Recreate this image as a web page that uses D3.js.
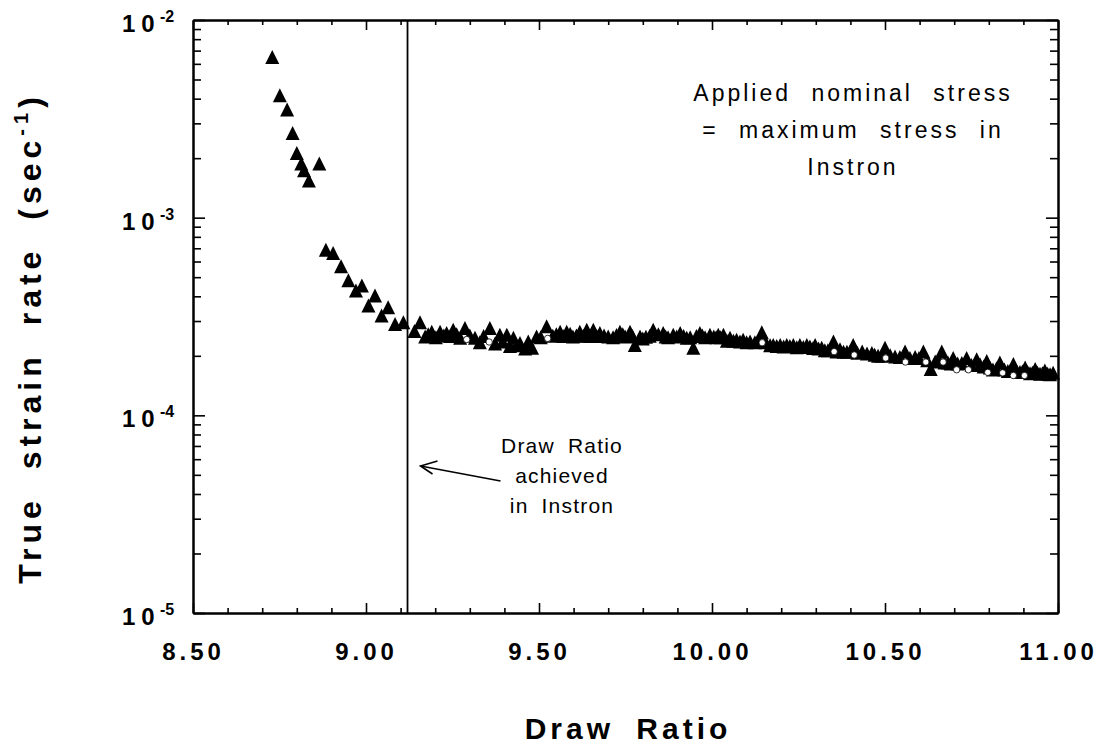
<!DOCTYPE html>
<html>
<head>
<meta charset="utf-8">
<script src="https://cdn.jsdelivr.net/npm/d3@7"></script>
<style>
  html, body { margin: 0; padding: 0; background: #fff; }
  svg { display: block; }
</style>
</head>
<body>
<svg id="chart" width="1108" height="749"></svg>
<script>
// Filled triangles: true strain rate (1/s) against draw ratio
const drawRatio = [
  8.729, 8.751, 8.772, 8.788, 8.800, 8.813, 8.821, 8.835, 8.865,
  8.884, 8.905, 8.928, 8.949, 8.971, 8.988, 9.007, 9.026, 9.045, 9.064, 9.084, 9.108,
  9.156, 9.171, 9.190, 9.202, 9.214, 9.233, 9.243, 9.252, 9.272, 9.286,
  9.315, 9.329, 9.358, 9.373, 9.387, 9.407, 9.416, 9.426, 9.445, 9.460,
  9.469, 9.480, 9.493, 9.522, 9.540, 9.561, 9.580, 9.598, 9.618, 9.638,
  9.647, 9.657, 9.676, 9.700, 9.714, 9.734, 9.749, 9.763, 9.777, 9.792,
  9.809, 9.830, 9.859, 9.873, 9.888, 9.908, 9.927, 9.946, 9.965, 9.980,
  9.994, 10.005, 10.018, 10.033, 10.043, 10.052, 10.071, 10.081, 10.090, 10.110,
  10.124, 10.144, 10.168, 10.177, 10.197, 10.216, 10.225, 10.235, 10.254, 10.274,
  10.283, 10.298, 10.317, 10.335, 10.351, 10.370, 10.390, 10.408, 10.434, 10.462,
  10.480, 10.500, 10.529, 10.558, 10.587, 10.611, 10.632, 10.664, 10.682, 10.697,
  10.722, 10.736, 10.765, 10.775, 10.794, 10.812, 10.832, 10.855, 10.871, 10.890,
  10.905, 10.919, 10.934, 10.948, 10.962, 10.977, 10.986,
  // lower row of the dense band
  9.140, 9.180, 9.225, 9.262, 9.300, 9.340, 9.395, 9.435, 9.505, 9.550,
  9.570, 9.590, 9.608, 9.628, 9.667, 9.688, 9.724, 9.742, 9.770, 9.800,
  9.820, 9.845, 9.866, 9.898, 9.918, 9.937, 9.955, 9.972, 10.012, 10.025,
  10.062, 10.100, 10.134, 10.155, 10.187, 10.207, 10.245, 10.264, 10.292, 10.308,
  10.326, 10.343, 10.360, 10.380, 10.400, 10.420, 10.448, 10.470, 10.490, 10.515,
  10.543, 10.572, 10.598, 10.622, 10.645, 10.655, 10.672, 10.690, 10.710, 10.750,
  10.785, 10.803, 10.822, 10.845, 10.862, 10.880, 10.897, 10.912, 10.926, 10.941,
  10.955, 10.970
];
const strainRate = [
  6.33e-3, 4.05e-3, 3.43e-3, 2.61e-3, 2.07e-3, 1.83e-3, 1.69e-3, 1.50e-3, 1.83e-3,
  6.70e-4, 6.44e-4, 5.53e-4, 4.69e-4, 4.17e-4, 4.42e-4, 3.50e-4, 3.93e-4, 3.11e-4, 3.43e-4, 2.82e-4, 2.88e-4,
  2.88e-4, 2.44e-4, 2.58e-4, 2.42e-4, 2.58e-4, 2.54e-4, 2.45e-4, 2.64e-4, 2.40e-4, 2.69e-4,
  2.40e-4, 2.28e-4, 2.69e-4, 2.25e-4, 2.49e-4, 2.49e-4, 2.18e-4, 2.40e-4, 2.26e-4, 2.12e-4,
  2.30e-4, 2.14e-4, 2.44e-4, 2.75e-4, 2.46e-4, 2.58e-4, 2.58e-4, 2.44e-4, 2.58e-4, 2.64e-4,
  2.45e-4, 2.64e-4, 2.54e-4, 2.44e-4, 2.42e-4, 2.58e-4, 2.44e-4, 2.58e-4, 2.21e-4, 2.44e-4,
  2.43e-4, 2.64e-4, 2.54e-4, 2.42e-4, 2.49e-4, 2.54e-4, 2.40e-4, 2.14e-4, 2.54e-4, 2.42e-4,
  2.49e-4, 2.44e-4, 2.49e-4, 2.49e-4, 2.32e-4, 2.40e-4, 2.35e-4, 2.30e-4, 2.35e-4, 2.30e-4,
  2.28e-4, 2.56e-4, 2.20e-4, 2.21e-4, 2.21e-4, 2.21e-4, 2.18e-4, 2.21e-4, 2.21e-4, 2.21e-4,
  2.17e-4, 2.21e-4, 2.14e-4, 2.08e-4, 2.30e-4, 2.10e-4, 2.04e-4, 2.21e-4, 2.05e-4, 2.01e-4,
  1.95e-4, 2.14e-4, 1.93e-4, 2.05e-4, 1.92e-4, 2.05e-4, 1.67e-4, 2.05e-4, 1.80e-4, 1.90e-4,
  1.79e-4, 1.90e-4, 1.87e-4, 1.76e-4, 1.83e-4, 1.66e-4, 1.80e-4, 1.63e-4, 1.77e-4, 1.61e-4,
  1.70e-4, 1.59e-4, 1.67e-4, 1.58e-4, 1.64e-4, 1.57e-4, 1.60e-4,
  // lower row of the dense band
  2.60e-4, 2.50e-4, 2.47e-4, 2.50e-4, 2.47e-4, 2.45e-4, 2.30e-4, 2.20e-4, 2.42e-4, 2.50e-4,
  2.45e-4, 2.52e-4, 2.47e-4, 2.46e-4, 2.45e-4, 2.47e-4, 2.48e-4, 2.50e-4, 2.45e-4, 2.38e-4,
  2.46e-4, 2.50e-4, 2.44e-4, 2.44e-4, 2.45e-4, 2.42e-4, 2.45e-4, 2.47e-4, 2.42e-4, 2.42e-4,
  2.32e-4, 2.28e-4, 2.30e-4, 2.28e-4, 2.18e-4, 2.17e-4, 2.15e-4, 2.16e-4, 2.13e-4, 2.12e-4,
  2.08e-4, 2.10e-4, 2.05e-4, 2.04e-4, 2.06e-4, 2.02e-4, 2.00e-4, 1.97e-4, 1.95e-4, 1.96e-4,
  1.92e-4, 1.90e-4, 1.90e-4, 1.85e-4, 1.82e-4, 1.86e-4, 1.80e-4, 1.78e-4, 1.78e-4, 1.75e-4,
  1.72e-4, 1.70e-4, 1.68e-4, 1.66e-4, 1.64e-4, 1.63e-4, 1.62e-4, 1.61e-4, 1.60e-4, 1.60e-4,
  1.59e-4, 1.58e-4
];

// Open symbols lying inside the triangle band
const openDrawRatio = [
  9.291, 9.356, 9.525, 10.145, 10.353, 10.411, 10.502, 10.559,
  10.618, 10.668, 10.707, 10.741, 10.797, 10.840, 10.871, 10.903
];
const openStrainRate = [
  2.42e-4, 2.35e-4, 2.45e-4, 2.33e-4, 2.10e-4, 2.02e-4, 1.95e-4, 1.86e-4,
  1.86e-4, 1.86e-4, 1.70e-4, 1.70e-4, 1.65e-4, 1.64e-4, 1.59e-4, 1.59e-4
];

// Axis ticks and labels
const xMajorTicks = [8.5, 9.0, 9.5, 10.0, 10.5, 11.0];
const xTickLabels = ["8.50", "9.00", "9.50", "10.00", "10.50", "11.00"];
const yDecades = [1e-5, 1e-4, 1e-3, 1e-2];
const yExponents = ["-5", "-4", "-3", "-2"];

// Draw ratio reached in the Instron test (vertical reference line)
const instronDrawRatio = 9.12;

const svg = d3.select("#chart");
const plotLeft = 193, plotRight = 1058, plotTop = 20, plotBottom = 613;

const x = d3.scaleLinear().domain([8.5, 11]).range([plotLeft, plotRight]);
const y = d3.scaleLog().domain([1e-5, 1e-2]).range([plotBottom, plotTop]);

const xMinor = d3.range(85, 111).map(d => d / 10)
  .filter(d => !xMajorTicks.some(t => Math.abs(t - d) < 1e-9));
const yMinor = [];
yDecades.slice(0, -1).forEach(d => { for (let k = 2; k <= 9; k++) yMinor.push(d * k); });

const boldFont = "'Liberation Sans', Arial, Helvetica, sans-serif";

function styleAxis(g) {
  g.select(".domain").attr("stroke", "#000").attr("stroke-width", 2);
  g.selectAll(".tick line").attr("stroke", "#000").attr("stroke-width", 1.6);
}

// Bottom axis with labels
const gBottom = svg.append("g").attr("transform", `translate(0,${plotBottom})`)
  .call(d3.axisBottom(x).tickValues(xMajorTicks).tickSize(-10).tickSizeOuter(0)
    .tickPadding(30).tickFormat((d, i) => xTickLabels[i]));
gBottom.call(styleAxis);
gBottom.selectAll("text")
  .attr("font-family", boldFont).attr("font-weight", "bold")
  .attr("font-size", 24).attr("letter-spacing", 4).attr("fill", "#000");
svg.append("g").attr("transform", `translate(0,${plotBottom})`)
  .call(d3.axisBottom(x).tickValues(xMinor).tickSize(-5).tickSizeOuter(0).tickFormat(""))
  .call(styleAxis);

// Top axis (ticks only)
svg.append("g").attr("transform", `translate(0,${plotTop})`)
  .call(d3.axisTop(x).tickValues(xMajorTicks).tickSize(-10).tickSizeOuter(0).tickFormat(""))
  .call(styleAxis);
svg.append("g").attr("transform", `translate(0,${plotTop})`)
  .call(d3.axisTop(x).tickValues(xMinor).tickSize(-5).tickSizeOuter(0).tickFormat(""))
  .call(styleAxis);

// Left and right log axes (ticks only)
svg.append("g").attr("transform", `translate(${plotLeft},0)`)
  .call(d3.axisLeft(y).tickValues(yDecades).tickSize(-12).tickSizeOuter(0).tickFormat(""))
  .call(styleAxis);
svg.append("g").attr("transform", `translate(${plotLeft},0)`)
  .call(d3.axisLeft(y).tickValues(yMinor).tickSize(-8).tickSizeOuter(0).tickFormat(""))
  .call(styleAxis);
svg.append("g").attr("transform", `translate(${plotRight},0)`)
  .call(d3.axisRight(y).tickValues(yDecades).tickSize(-12).tickSizeOuter(0).tickFormat(""))
  .call(styleAxis);
svg.append("g").attr("transform", `translate(${plotRight},0)`)
  .call(d3.axisRight(y).tickValues(yMinor).tickSize(-8).tickSizeOuter(0).tickFormat(""))
  .call(styleAxis);

// Power-of-ten labels on the y axis
const yLab = svg.append("g").selectAll("text").data(yDecades).join("text")
  .attr("font-family", boldFont).attr("font-weight", "bold").attr("fill", "#000")
  .attr("x", 122).attr("y", d => y(d) + 12);
yLab.append("tspan").attr("font-size", 24).attr("letter-spacing", 6).text("10");
yLab.append("tspan").attr("font-size", 16).attr("x", 160).attr("dy", -10)
  .text((d, i) => yExponents[i]);

// Axis titles
const yTitle = svg.append("text")
  .attr("transform", "translate(41,338) rotate(-90)")
  .attr("text-anchor", "middle")
  .attr("font-family", boldFont).attr("font-weight", "bold")
  .attr("font-size", 32).attr("letter-spacing", 5).attr("word-spacing", 13).attr("fill", "#000");
yTitle.append("tspan").text("True strain rate (sec");
yTitle.append("tspan").attr("font-size", 20).attr("dy", -13).text("-1");
yTitle.append("tspan").attr("dy", 13).text(")");

svg.append("text")
  .attr("x", 628).attr("y", 739).attr("text-anchor", "middle")
  .attr("font-family", boldFont).attr("font-weight", "bold")
  .attr("font-size", 30).attr("letter-spacing", 4).attr("word-spacing", 10).attr("fill", "#000")
  .text("Draw Ratio");

// Vertical line at the Instron draw ratio
svg.append("line")
  .attr("x1", x(instronDrawRatio)).attr("x2", x(instronDrawRatio))
  .attr("y1", plotTop).attr("y2", plotBottom)
  .attr("stroke", "#000").attr("stroke-width", 1.8);

// Data: filled triangles
const triW = 14, triH = 14;
const triPath = `M0,${-triH * 2 / 3}L${triW / 2},${triH / 3}L${-triW / 2},${triH / 3}Z`;
svg.append("g").selectAll("path").data(drawRatio).join("path")
  .attr("d", triPath)
  .attr("transform", (d, i) => `translate(${x(d)},${y(strainRate[i])})`)
  .attr("fill", "#000");

// Data: open symbols
svg.append("g").selectAll("circle").data(openDrawRatio).join("circle")
  .attr("cx", d => x(d))
  .attr("cy", (d, i) => y(openStrainRate[i]))
  .attr("r", 3.2)
  .attr("fill", "#fff").attr("stroke", "#000").attr("stroke-width", 0.8);

// Annotations
const noteFont = "'Liberation Sans', Arial, Helvetica, sans-serif";
const note1 = ["Applied nominal stress", "= maximum stress in", "Instron"];
svg.append("g").selectAll("text").data(note1).join("text")
  .attr("x", 853).attr("y", (d, i) => 101 + i * 37)
  .attr("text-anchor", "middle")
  .attr("font-family", noteFont).attr("font-size", 23)
  .attr("letter-spacing", 3).attr("word-spacing", 11).attr("fill", "#000")
  .text(d => d);

const note2 = ["Draw Ratio", "achieved", "in Instron"];
svg.append("g").selectAll("text").data(note2).join("text")
  .attr("x", 562).attr("y", (d, i) => 453 + i * 30)
  .attr("text-anchor", "middle")
  .attr("font-family", noteFont).attr("font-size", 21)
  .attr("letter-spacing", 1.2).attr("word-spacing", 6).attr("fill", "#000")
  .text(d => d);

// Arrow pointing at the vertical line
const tipX = x(instronDrawRatio) + 13, tipY = 466;
svg.append("line")
  .attr("x1", tipX + 80).attr("y1", tipY + 15).attr("x2", tipX).attr("y2", tipY)
  .attr("stroke", "#000").attr("stroke-width", 1.6);
svg.append("path")
  .attr("d", `M${tipX + 17},${tipY - 5}L${tipX},${tipY}L${tipX + 12},${tipY + 8}`)
  .attr("fill", "none").attr("stroke", "#000").attr("stroke-width", 1.6);
</script>
</body>
</html>
